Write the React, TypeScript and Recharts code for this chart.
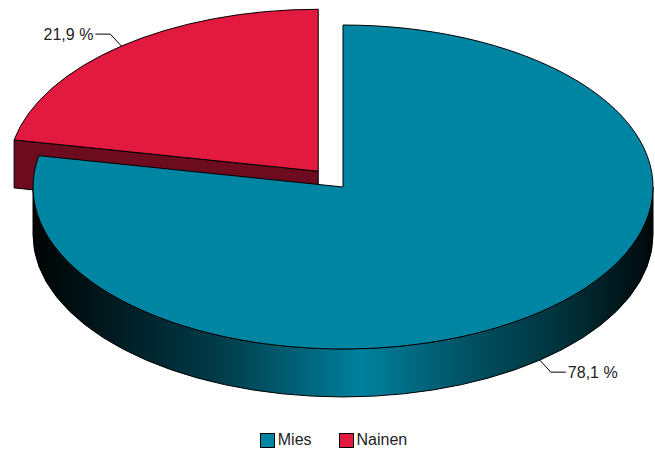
import React from 'react';
import { PieChart, Pie, Cell, Legend } from 'recharts';

// share of respondents by gender (%)
const categories = ['Mies', 'Nainen'];
const shares = [78.1, 21.9];
const colors = ['#0085a2', '#e31a40'];
const exploded = ['Nainen'];

const data = categories.map((name, i) => ({ name, value: shares[i] }));

const CX = 343;
const CY = 187;
const RX = 310;
const RY = 162;
const K = RY / RX;
const DEPTH = 48;
const EXPLODE = 39;
const RAD = Math.PI / 180;
const FONT = '"Liberation Sans", Arial, sans-serif';

// brightness of the side wall from left to right
const wallStops = [
    [0, 0.02],
    [0.1, 0.16],
    [0.3, 0.45],
    [0.48, 0.85],
    [0.53, 0.97],
    [0.7, 0.62],
    [0.86, 0.36],
    [1, 0.06],
];

const shade = (hex: string, f: number) => {
    const n = parseInt(hex.slice(1), 16);
    const r = Math.round(((n >> 16) & 255) * f);
    const g = Math.round(((n >> 8) & 255) * f);
    const b = Math.round((n & 255) * f);
    return `rgb(${r},${g},${b})`;
};

const explodeOffset = (name: string, mid: number) =>
    exploded.includes(name)
        ? [EXPLODE * Math.cos(mid * RAD), -EXPLODE * K * Math.sin(mid * RAD)]
        : [0, 0];

const makeShape = (layer: 'face' | 'wall' | 'top') => (props: any) => {
    const { cx, cy, outerRadius, startAngle, endAngle, midAngle } = props;
    const name = props.payload?.name ?? props.name;
    const fill = colors[categories.indexOf(name)] ?? props.fill;
    const [dx, dy] = explodeOffset(name, midAngle);
    const ox = cx + dx;
    const oy = cy + dy;
    const rx = outerRadius;
    const ry = outerRadius * K;
    const hi = Math.max(startAngle, endAngle);
    const lo = Math.min(startAngle, endAngle);
    const P = (a: number) => [ox + rx * Math.cos(a * RAD), oy - ry * Math.sin(a * RAD)];

    if (layer === 'top') {
        const [x1, y1] = P(hi);
        const [x2, y2] = P(lo);
        const large = hi - lo > 180 ? 1 : 0;
        const d = `M${ox},${oy} L${x1},${y1} A${rx},${ry} 0 ${large} 1 ${x2},${y2} Z`;
        return <path d={d} fill={fill} stroke="#000" strokeWidth={1} />;
    }

    if (layer === 'face') {
        const faces: React.ReactNode[] = [];
        [
            [hi, hi + 90],
            [lo, lo - 90],
        ].forEach(([a, normal], i) => {
            if (Math.sin(normal * RAD) < -1e-6) {
                const [x, y] = P(a);
                const d = `M${ox},${oy} L${x},${y} L${x},${y + DEPTH} L${ox},${oy + DEPTH} Z`;
                faces.push(<path key={i} d={d} fill={shade(fill, 0.48)} stroke="#000" strokeWidth={1} />);
            }
        });
        return <g>{faces}</g>;
    }

    // outer wall, only the part facing the viewer
    const segs: number[][] = [];
    for (let n = -2; n <= 2; n++) {
        const a = Math.max(lo, -180 + 360 * n);
        const b = Math.min(hi, 360 * n);
        if (b > a) segs.push([a, b]);
    }
    const gid = `wall-${categories.indexOf(name)}`;
    return (
        <g>
            <defs>
                <linearGradient id={gid} gradientUnits="userSpaceOnUse" x1={ox - rx} y1={0} x2={ox + rx} y2={0}>
                    {wallStops.map(([o, f]) => (
                        <stop key={o} offset={o} stopColor={shade(fill, f)} />
                    ))}
                </linearGradient>
            </defs>
            {segs.map(([a, b], i) => {
                const [x1, y1] = P(a);
                const [x2, y2] = P(b);
                const d = `M${x1},${y1} A${rx},${ry} 0 0 0 ${x2},${y2} L${x2},${y2 + DEPTH} A${rx},${ry} 0 0 1 ${x1},${y1 + DEPTH} Z`;
                return <path key={i} d={d} fill={`url(#${gid})`} stroke="#000" strokeWidth={1} />;
            })}
        </g>
    );
};

const renderLabel = (props: any) => {
    const { cx, cy, outerRadius, midAngle, value } = props;
    const name = props.payload?.name ?? props.name;
    const [dx, dy] = explodeOffset(name, midAngle);
    const c = Math.cos(midAngle * RAD);
    const s = Math.sin(midAngle * RAD);
    const ax = cx + dx + outerRadius * c;
    const ay = cy + dy - outerRadius * K * s + (s < 0 ? DEPTH : 0);
    const sx = c >= 0 ? 1 : -1;
    const sy = s >= 0 ? -1 : 1;
    const ex = ax + 11 * sx;
    const ey = ay + 12 * sy;
    const tx = ex + 15 * sx;
    return (
        <g>
            <polyline points={`${ax},${ay} ${ex},${ey} ${tx},${ey}`} fill="none" stroke="#000" strokeWidth={1} />
            <text
                x={tx + 2 * sx}
                y={ey}
                textAnchor={sx > 0 ? 'start' : 'end'}
                dominantBaseline="central"
                fontFamily={FONT}
                fontSize={16}
                fill="#222"
            >
                {`${Number(value).toFixed(1).replace('.', ',')} %`}
            </text>
        </g>
    );
};

const renderLegend = (props: any) => {
    const seen = new Set<string>();
    const items = (props.payload || []).filter((p: any) => {
        if (p.type === 'none' || seen.has(p.value)) return false;
        seen.add(p.value);
        return true;
    });
    return (
        <div style={{ display: 'flex', justifyContent: 'center', gap: 27, fontFamily: FONT, fontSize: 16, color: '#222' }}>
            {items.map((p: any) => (
                <div key={p.value} style={{ display: 'flex', alignItems: 'center' }}>
                    <span
                        style={{
                            display: 'inline-block',
                            width: 13,
                            height: 13,
                            background: p.color,
                            border: '1px solid #000',
                            marginRight: 3,
                        }}
                    />
                    <span>{p.value}</span>
                </div>
            ))}
        </div>
    );
};

export default function App() {
    const common = {
        data,
        dataKey: 'value',
        nameKey: 'name',
        cx: CX,
        cy: CY,
        outerRadius: RX,
        startAngle: 90,
        endAngle: -270,
        isAnimationActive: false,
        labelLine: false,
    };
    return (
        <div style={{ position: 'absolute', left: 0, top: 0, background: '#fff' }}>
            <PieChart width={655} height={453} margin={{ top: 0, right: 0, bottom: 0, left: 0 }}>
                <Pie {...common} legendType="none" shape={makeShape('face')}>
                    {data.map((d, i) => (
                        <Cell key={d.name} fill={colors[i]} />
                    ))}
                </Pie>
                <Pie {...common} legendType="none" shape={makeShape('wall')}>
                    {data.map((d, i) => (
                        <Cell key={d.name} fill={colors[i]} />
                    ))}
                </Pie>
                <Pie {...common} shape={makeShape('top')} label={renderLabel}>
                    {data.map((d, i) => (
                        <Cell key={d.name} fill={colors[i]} />
                    ))}
                </Pie>
                <Legend
                    verticalAlign="bottom"
                    content={renderLegend}
                    wrapperStyle={{ top: 431, left: 6, width: 655 }}
                />
            </PieChart>
        </div>
    );
}
